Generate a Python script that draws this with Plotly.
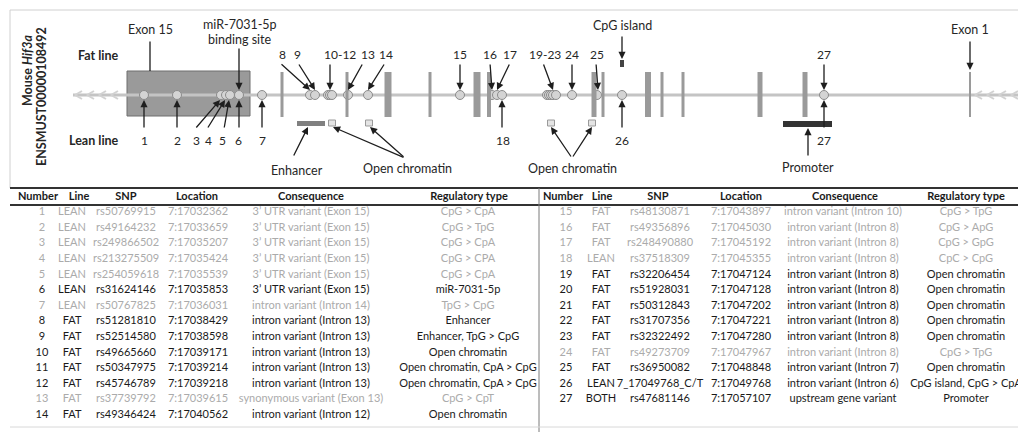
import plotly.graph_objects as go

W, H = 1018, 435

# ---------------- diagram data (schematic positions along the gene) ----------------
exon_pos = [282, 347, 388, 430, 477, 489, 594, 603, 648, 662, 683, 760, 805, 970]
exon_w = [3, 3, 7, 3, 7, 4, 5, 3, 6, 3, 3, 5, 5, 2]
exon15_span = [127, 250]

snp_id = list(range(1, 28))
snp_pos = [144, 177, 221, 226, 230, 239, 262, 310, 315, 328, 330, 332, 348, 368,
           460, 492, 497, 502, 547, 549, 551, 553, 556, 572, 597, 622, 824]

fat_labels = ["8", "9", "10-12", "13", "14", "15", "16", "17", "19-23", "24", "25", "27"]
fat_label_pos = [282, 297, 340, 368, 386, 460, 490, 510, 545, 572, 597, 824]
fat_tail_pos = [280, 298, 330, 363, 385, 460, 490, 510, 543, 572, 596, 824]
fat_target = [310, 315, 330, 348, 368, 460, 492, 497, 553, 572, 598, 824]

lean_labels = ["1", "2", "3", "4", "5", "6", "7", "18", "26", "27"]
lean_label_pos = [144, 177, 196, 208, 222, 238, 262, 503, 622, 824]
lean_tail_pos = [144, 177, 195, 207, 224, 239, 262, 502, 622, 824]
lean_target = [144, 177, 220, 225, 229, 239, 262, 502, 622, 824]

enhancer_span = [297, 325]
open_chrom_pos = [332, 369, 551, 592]
promoter_span = [783, 832]
cpg_island_pos = 622

# ---------------- table data ----------------
t_num = [str(i) for i in range(1, 28)]
t_line = ["LEAN"] * 7 + ["FAT"] * 10 + ["LEAN"] + ["FAT"] * 7 + ["LEAN", "BOTH"]
t_snp = ["rs50769915", "rs49164232", "rs249866502", "rs213275509", "rs254059618",
         "rs31624146", "rs50767825", "rs51281810", "rs52514580", "rs49665660",
         "rs50347975", "rs45746789", "rs37739792", "rs49346424", "rs48130871",
         "rs49356896", "rs248490880", "rs37518309", "rs32206454", "rs51928031",
         "rs50312843", "rs31707356", "rs32322492", "rs49273709", "rs36950082",
         "7_17049768_C/T", "rs47681146"]
t_loc = ["7:17032362", "7:17033659", "7:17035207", "7:17035424", "7:17035539",
         "7:17035853", "7:17036031", "7:17038429", "7:17038598", "7:17039171",
         "7:17039214", "7:17039218", "7:17039615", "7:17040562", "7:17043897",
         "7:17045030", "7:17045192", "7:17045355", "7:17047124", "7:17047128",
         "7:17047202", "7:17047221", "7:17047280", "7:17047967", "7:17048848",
         "7:17049768", "7:17057107"]
t_cons = (["3’ UTR variant (Exon 15)"] * 6 + ["intron variant (Intron 14)"]
          + ["intron variant (Intron 13)"] * 5 + ["synonymous variant (Exon 13)",
          "intron variant (Intron 12)", "intron variant (Intron 10)"]
          + ["intron variant (Intron 8)"] * 9
          + ["intron variant (Intron 7)", "intron variant (Intron 6)", "upstream gene variant"])
t_reg = ["CpG > CpA", "CpG > TpG", "CpG > CpA", "CpG > CPA", "CpG > CpA", "miR-7031-5p",
         "TpG > CpG", "Enhancer", "Enhancer, TpG > CpG", "Open chromatin",
         "Open chromatin, CpA > CpG", "Open chromatin, CpA > CpG", "CpG > CpT",
         "Open chromatin", "CpG > TpG", "CpG > ApG", "CpG > GpG", "CpC > CpG",
         "Open chromatin", "Open chromatin", "Open chromatin", "Open chromatin",
         "Open chromatin", "CpG > TpG", "Open chromatin", "CpG island, CpG > CpA", "Promoter"]
t_key = [0, 0, 0, 0, 0, 1, 0, 1, 1, 1, 1, 1, 0, 1, 0, 0, 0, 0, 1, 1, 1, 1, 1, 0, 1, 1, 1]
headers = ["Number", "Line", "SNP", "Location", "Consequence", "Regulatory type"]

# ---------------- styling ----------------
FONT = "Lato"
DARK = "#262626"
GRAY_TXT = "#ababab"
GENE_Y = 95
fig = go.Figure()
shapes = []
ann = []

# frame of diagram
shapes.append(dict(type="line", x0=10, x1=W, y0=10, y1=10, line=dict(color="#d0d0d0", width=1)))
shapes.append(dict(type="line", x0=10, x1=10, y0=10, y1=188, line=dict(color="#d0d0d0", width=1)))

# gene backbone
fig.add_trace(go.Scatter(x=[73, W], y=[GENE_Y, GENE_Y], mode="lines",
                         line=dict(color="#c4c4c4", width=3), hoverinfo="skip"))
# chevrons
cx, cy = [], []
for x0 in [75, 87, 99, 111, 975, 987, 999, 1011]:
    cx += [x0 + 7, x0, x0 + 7, None]
    cy += [GENE_Y - 4, GENE_Y, GENE_Y + 4, None]
fig.add_trace(go.Scatter(x=cx, y=cy, mode="lines", line=dict(color="#d2d2d2", width=2),
                         hoverinfo="skip"))

# exon 15 box
shapes.append(dict(type="rect", x0=exon15_span[0], x1=exon15_span[1], y0=71, y1=116,
                   fillcolor="#9a9a9a", line=dict(color="#6e6e6e", width=1), layer="below"))
# exon bars
for p, w in zip(exon_pos, exon_w):
    shapes.append(dict(type="rect", x0=p - w / 2, x1=p + w / 2, y0=72, y1=117,
                       fillcolor="#9a9a9a", line=dict(width=0), layer="above"))

# regulatory features
shapes.append(dict(type="rect", x0=enhancer_span[0], x1=enhancer_span[1], y0=121, y1=126,
                   fillcolor="#808080", line=dict(width=0)))
for p in open_chrom_pos:
    shapes.append(dict(type="rect", x0=p - 3.5, x1=p + 3.5, y0=120, y1=126,
                       fillcolor="#e4e4e4", line=dict(color="#9a9a9a", width=1)))
shapes.append(dict(type="rect", x0=promoter_span[0], x1=promoter_span[1], y0=121, y1=127,
                   fillcolor="#333333", line=dict(width=0)))
shapes.append(dict(type="rect", x0=cpg_island_pos - 2, x1=cpg_island_pos + 2, y0=60, y1=67,
                   fillcolor="#444444", line=dict(width=0)))

# SNP circles
fig.add_trace(go.Scatter(x=snp_pos, y=[GENE_Y] * len(snp_pos), mode="markers",
                         marker=dict(size=9, color="#d4d4d4", line=dict(color="#8c8c8c", width=1)),
                         text=[str(s) for s in snp_id], hoverinfo="text"))


def arrow(hx, hy, tx, ty, head=True):
    ann.append(dict(x=hx, y=hy, ax=tx, ay=ty, xref="x", yref="y", axref="x", ayref="y",
                    text="", showarrow=True, arrowhead=2 if head else 0, arrowsize=1.1,
                    arrowwidth=1.3, arrowcolor="#1e1e1e", standoff=0, startstandoff=0))


def label(x, y, txt, size=13, bold=False, color=DARK, angle=0):
    ann.append(dict(x=x, y=y, xref="x", yref="y", text=f"<b>{txt}</b>" if bold else txt,
                    showarrow=False, textangle=angle,
                    font=dict(family=FONT, size=size, color=color),
                    xanchor="center", yanchor="middle"))


for lab, lx, tx, tg in zip(fat_labels, fat_label_pos, fat_tail_pos, fat_target):
    label(lx, 54, lab, size=12)
    arrow(tg, GENE_Y - 5, tx, 63)
for lab, lx, tx, tg in zip(lean_labels, lean_label_pos, lean_tail_pos, lean_target):
    label(lx, 140, lab, size=12)
    arrow(tg, GENE_Y + 5, tx, 129)

label(98, 55, "Fat line", size=12.5, bold=True)
label(94, 140, "Lean line", size=12.5, bold=True)
label(27, 71, "Mouse <i>Hif3a</i>", size=12.5, bold=True, angle=-90)
label(41, 97, "ENSMUST00000108492", size=12.5, bold=True, angle=-90)

label(150, 29, "Exon 15", size=12.5)
arrow(150, 71, 150, 40, head=False)
label(240, 24, "miR-7031-5p", size=12.5)
label(240, 39, "binding site", size=12.5)
arrow(239, GENE_Y - 5, 239, 47)
label(297, 170, "Enhancer", size=12.5)
arrow(308, 127, 293, 157)
label(407, 168, "Open chromatin", size=12.5)
arrow(open_chrom_pos[0] + 1, 127, 405, 158)
arrow(open_chrom_pos[1] + 1, 127, 405, 158)
label(572, 168, "Open chromatin", size=12.5)
arrow(open_chrom_pos[2], 127, 572, 158)
arrow(open_chrom_pos[3], 127, 572, 158)
label(cpg_island_pos, 25, "CpG island", size=12.5)
arrow(cpg_island_pos, 59, cpg_island_pos, 35)
label(808, 167, "Promoter", size=12.5)
arrow(808, 128, 808, 157)
label(exon_pos[-1], 29, "Exon 1", size=12.5)
arrow(exon_pos[-1], 70, exon_pos[-1], 40)

# ---------------- table ----------------
TOP, HDR_Y, HDR_LINE, ROW0, DY = 188, 197, 205, 212.5, 15.6
hdr_left = [38, 79, 126, 197, 311, 469]
hdr_right = [563, 602, 658, 741, 845, 966]
col_left = [42, 72, 126, 198, 311, 468]
col_right = [566, 601, 660, 741, 843, 966]
columns = [t_num, t_line, t_snp, t_loc, t_cons, t_reg]
TFS = 11
HFS = 11

shapes.append(dict(type="line", x0=10, x1=W, y0=TOP, y1=TOP, line=dict(color="#333333", width=2)))
shapes.append(dict(type="line", x0=10, x1=W, y0=HDR_LINE, y1=HDR_LINE,
                   line=dict(color="#333333", width=2)))
shapes.append(dict(type="line", x0=539, x1=539, y0=TOP, y1=432, line=dict(color="#7a7a7a", width=1)))
shapes.append(dict(type="line", x0=10, x1=W, y0=427, y1=427, line=dict(color="#d8d8d8", width=1)))

for hx in (hdr_left, hdr_right):
    fig.add_trace(go.Scatter(x=hx, y=[HDR_Y] * 6, mode="text",
                             text=[f"<b>{h}</b>" for h in headers],
                             textfont=dict(family=FONT, size=HFS, color="#1a1a1a"),
                             hoverinfo="skip", cliponaxis=False))

n_left = 14
for ci, col in enumerate(columns):
    for half in (0, 1):
        idx = range(0, n_left) if half == 0 else range(n_left, 27)
        xs, ys, txt, colr = [], [], [], []
        for k, i in enumerate(idx):
            xs.append((col_left if half == 0 else col_right)[ci])
            ys.append(ROW0 + k * DY)
            txt.append(col[i])
            colr.append("#1a1a1a" if t_key[i] else GRAY_TXT)
        fig.add_trace(go.Scatter(x=xs, y=ys, mode="text", text=txt,
                                 textfont=dict(family=FONT, size=TFS, color=colr),
                                 hoverinfo="skip"))

fig.update_layout(
    width=W, height=H, margin=dict(l=0, r=0, t=0, b=0),
    paper_bgcolor="white", plot_bgcolor="white", showlegend=False,
    xaxis=dict(range=[0, W], visible=False, fixedrange=True),
    yaxis=dict(range=[H, 0], visible=False, fixedrange=True),
    shapes=shapes, annotations=ann,
)
fig.write_html("out.html", config={"displayModeBar": False},
               post_script="document.body.style.margin='0px';")
